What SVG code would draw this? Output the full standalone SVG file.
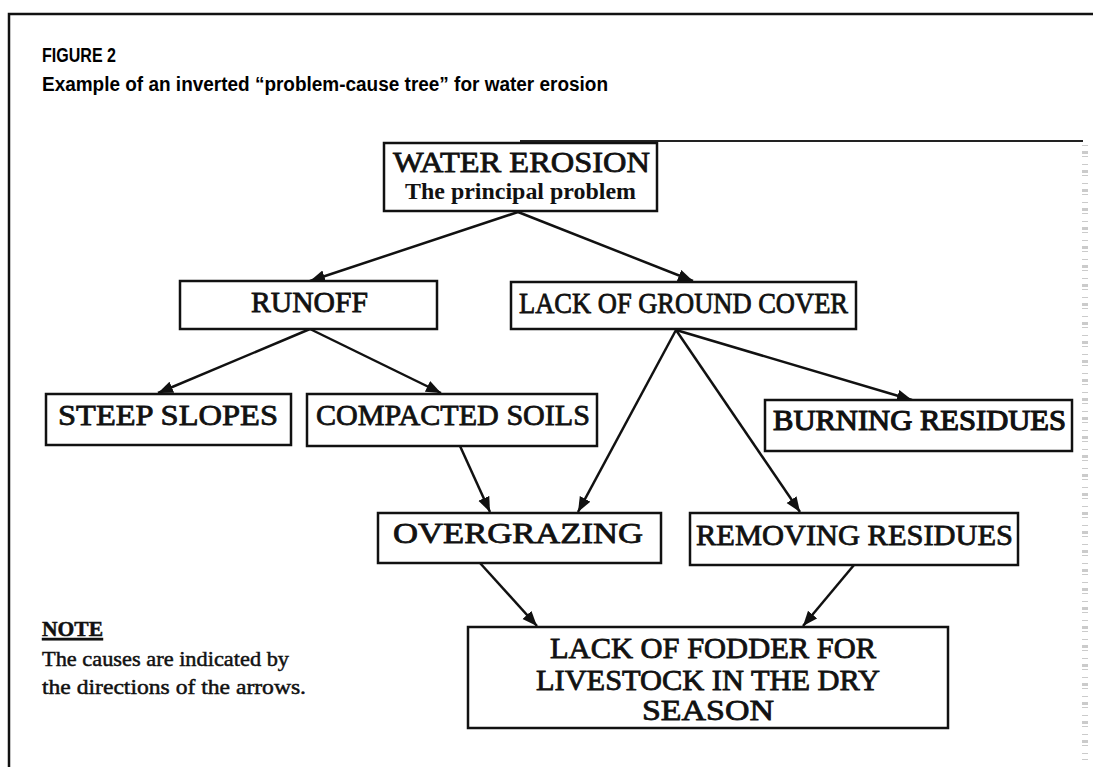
<svg xmlns="http://www.w3.org/2000/svg" width="1093" height="767" viewBox="0 0 1093 767">
<style>
.box{fill:#fff;stroke:#111;stroke-width:2.5}
.lbl{font-family:"Liberation Serif","Times New Roman",serif;font-size:30px;fill:#111;stroke:#111;stroke-width:0.8}
.sub{font-family:"Liberation Serif","Times New Roman",serif;font-size:24px;font-weight:bold;fill:#111}
.note{font-family:"Liberation Serif","Times New Roman",serif;font-size:22px;fill:#111;stroke:#111;stroke-width:0.5}
.ttl{font-family:"Liberation Sans",Arial,sans-serif;font-size:20px;font-weight:bold;fill:#000}
.con{stroke:#111;stroke-width:2.5;fill:none;marker-end:url(#ah)}
</style>
<defs>
<marker id="ah" markerUnits="userSpaceOnUse" markerWidth="16" markerHeight="14" refX="15" refY="6" orient="auto">
<path d="M0,0 L15,6 L0,12 z" fill="#111"/>
</marker>
</defs>
<rect width="1093" height="767" fill="#fff"/>
<g id="frame">
<path d="M9,767 L9,14 L1093,14" fill="none" stroke="#111" stroke-width="2.5"/>
<line x1="520" y1="141" x2="1083" y2="141" stroke="#222" stroke-width="2"/>
<line x1="1085" y1="145" x2="1085" y2="760" stroke="#aaa" stroke-width="6" stroke-dasharray="1 5 3 2 1 7" opacity="0.6"/>
</g>
<g id="title">
<text class="ttl" x="42" y="62" textLength="74" lengthAdjust="spacingAndGlyphs">FIGURE 2</text>
<text class="ttl" x="42" y="91" textLength="566" lengthAdjust="spacingAndGlyphs">Example of an inverted “problem-cause tree” for water erosion</text>
</g>
<g id="connectors">
<line class="con" x1="518" y1="212" x2="310" y2="281"/>
<line class="con" x1="518" y1="212" x2="693" y2="281"/>
<line class="con" x1="310" y1="329" x2="158" y2="393"/>
<line class="con" x1="310" y1="329" x2="441" y2="393"/>
<line class="con" x1="676" y1="330" x2="578" y2="512"/>
<line class="con" x1="676" y1="330" x2="800" y2="512"/>
<line class="con" x1="676" y1="330" x2="912" y2="400"/>
<line class="con" x1="460" y1="446" x2="490" y2="512"/>
<line class="con" x1="480" y1="563" x2="537" y2="626"/>
<line class="con" x1="854" y1="565" x2="803" y2="626"/>
</g>
<g id="water-erosion">
<rect class="box" x="384" y="143" width="273" height="68"/>
<text class="lbl" x="393" y="172" textLength="257" lengthAdjust="spacingAndGlyphs">WATER EROSION</text>
<text class="sub" x="405" y="199" textLength="231" lengthAdjust="spacingAndGlyphs">The principal problem</text>
</g>
<g id="runoff">
<rect class="box" x="180" y="281" width="257" height="48"/>
<text class="lbl" x="251" y="312" textLength="117" lengthAdjust="spacingAndGlyphs">RUNOFF</text>
</g>
<g id="lack-ground-cover">
<rect class="box" x="511" y="282" width="345" height="47"/>
<text class="lbl" x="519" y="313" textLength="329" lengthAdjust="spacingAndGlyphs">LACK OF GROUND COVER</text>
</g>
<g id="steep-slopes">
<rect class="box" x="46" y="394" width="245" height="51"/>
<text class="lbl" x="58" y="425" textLength="220" lengthAdjust="spacingAndGlyphs">STEEP SLOPES</text>
</g>
<g id="compacted-soils">
<rect class="box" x="307" y="394" width="290" height="52"/>
<text class="lbl" x="316" y="425" textLength="274" lengthAdjust="spacingAndGlyphs">COMPACTED SOILS</text>
</g>
<g id="burning-residues">
<rect class="box" x="765" y="400" width="307" height="51"/>
<text class="lbl" x="773" y="430" textLength="293" lengthAdjust="spacingAndGlyphs" style="stroke-width:1.2">BURNING RESIDUES</text>
</g>
<g id="overgrazing">
<rect class="box" x="378" y="513" width="283" height="50"/>
<text class="lbl" x="393" y="543" textLength="250" lengthAdjust="spacingAndGlyphs">OVERGRAZING</text>
</g>
<g id="removing-residues">
<rect class="box" x="690" y="513" width="328" height="52"/>
<text class="lbl" x="696" y="545" textLength="317" lengthAdjust="spacingAndGlyphs">REMOVING RESIDUES</text>
</g>
<g id="lack-fodder">
<rect class="box" x="468" y="627" width="480" height="101"/>
<text class="lbl" x="550" y="658" textLength="326" lengthAdjust="spacingAndGlyphs">LACK OF FODDER FOR</text>
<text class="lbl" x="536" y="690" textLength="344" lengthAdjust="spacingAndGlyphs">LIVESTOCK IN THE DRY</text>
<text class="lbl" x="642" y="720" textLength="132" lengthAdjust="spacingAndGlyphs">SEASON</text>
</g>
<g id="note">
<text class="note" x="42" y="636" font-weight="bold" textLength="61" lengthAdjust="spacingAndGlyphs" text-decoration="underline">NOTE</text>
<text class="note" x="42" y="666" textLength="247" lengthAdjust="spacingAndGlyphs">The causes are indicated by</text>
<text class="note" x="42" y="694" textLength="264" lengthAdjust="spacingAndGlyphs">the directions of the arrows.</text>
</g>
</svg>
